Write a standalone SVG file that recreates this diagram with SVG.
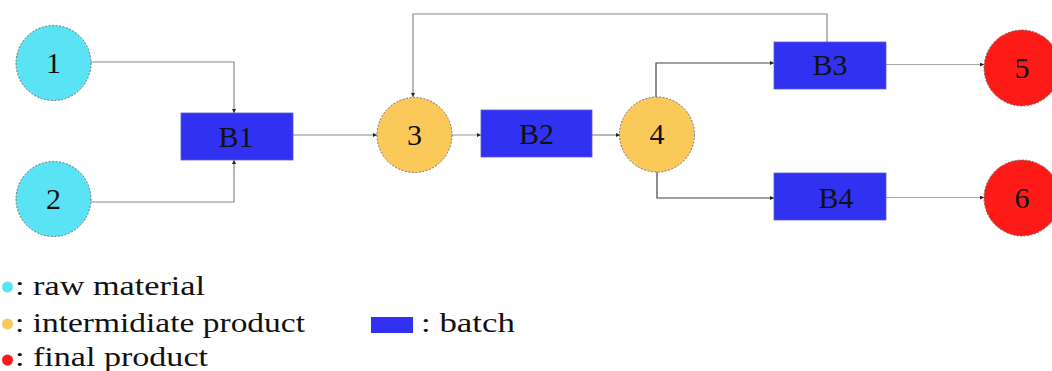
<svg xmlns="http://www.w3.org/2000/svg" width="1052" height="371" viewBox="0 0 1052 371">
  <style>
    .raw { fill: #5ae3f5; }
    .mid { fill: #fac95a; }
    .fin { fill: #fd1a17; }
    .node-c { stroke: #555; stroke-width: 0.8; stroke-dasharray: 2 1.5; }
    .batch { fill: #3131f2; stroke: #5a5ad8; stroke-width: 0.8; }
    .lbl { font-family: "Liberation Serif", "Times New Roman", serif; font-size: 30px; fill: #111; text-anchor: middle; }
    .leg { font-family: "Liberation Serif", "Times New Roman", serif; font-size: 27px; fill: #111; }
    .edge { fill: none; stroke: #8a8a8a; stroke-width: 1.2; marker-end: url(#tip); }
    .edge.light { stroke: #a8a8a8; }
    .edge.dark { stroke: #444; }
  </style>
  <defs>
    <marker id="tip" viewBox="0 0 6 6" refX="6" refY="3" markerWidth="4" markerHeight="4" markerUnits="userSpaceOnUse" orient="auto">
      <path d="M0,0 L6,3 L0,6 Z" fill="#222"/>
    </marker>
  </defs>

  <!-- connectors -->
  <g id="connectors">
    <path class="edge" d="M91,62 H234 V113"/>
    <path class="edge" d="M91,202 H234 V160"/>
    <path class="edge" d="M293,135 H377"/>
    <path class="edge light" d="M452,135 H481"/>
    <path class="edge" d="M592,135 H620"/>
    <path class="edge" d="M827,42 V14 H413 V97"/>
    <path class="edge dark" d="M656,97 V63 H774"/>
    <path class="edge dark" d="M657,172 V198 H774"/>
    <path class="edge light" d="M886,64.5 H984"/>
    <path class="edge light" d="M886,197.5 H984"/>
  </g>

  <!-- raw materials -->
  <g id="n1">
    <circle class="raw node-c" cx="53.5" cy="63" r="37.5"/>
    <text class="lbl" x="53.5" y="73">1</text>
  </g>
  <g id="n2">
    <circle class="raw node-c" cx="53.5" cy="199" r="37.5"/>
    <text class="lbl" x="53.5" y="209">2</text>
  </g>

  <!-- batches -->
  <g id="b1">
    <rect class="batch" x="181" y="113" width="112" height="47"/>
    <text class="lbl" x="236" y="147">B1</text>
  </g>
  <g id="b2">
    <rect class="batch" x="481" y="110" width="111" height="47"/>
    <text class="lbl" x="536.5" y="144">B2</text>
  </g>
  <g id="b3">
    <rect class="batch" x="774" y="42" width="112" height="47"/>
    <text class="lbl" x="830" y="75">B3</text>
  </g>
  <g id="b4">
    <rect class="batch" x="774" y="173" width="112" height="47"/>
    <text class="lbl" x="836" y="208">B4</text>
  </g>

  <!-- intermediate products -->
  <g id="n3">
    <circle class="mid node-c" cx="414.5" cy="135" r="37.5"/>
    <text class="lbl" x="414.5" y="145">3</text>
  </g>
  <g id="n4">
    <circle class="mid node-c" cx="657" cy="134.5" r="37.5"/>
    <text class="lbl" x="657" y="144">4</text>
  </g>

  <!-- final products -->
  <g id="n5">
    <circle class="fin node-c" cx="1022" cy="68" r="38"/>
    <text class="lbl" x="1022" y="78">5</text>
  </g>
  <g id="n6">
    <circle class="fin node-c" cx="1022" cy="198" r="38"/>
    <text class="lbl" x="1022" y="208">6</text>
  </g>

  <!-- legend -->
  <g id="legend">
    <circle class="raw" cx="7.5" cy="287" r="5.5"/>
    <text class="leg" x="15" y="295" textLength="190" lengthAdjust="spacingAndGlyphs">: raw material</text>
    <circle class="mid" cx="7.5" cy="324" r="5.5"/>
    <text class="leg" x="15" y="332" textLength="290" lengthAdjust="spacingAndGlyphs">: intermidiate product</text>
    <circle class="fin" cx="7.5" cy="360" r="5.5"/>
    <text class="leg" x="15" y="366" textLength="193" lengthAdjust="spacingAndGlyphs">: final product</text>
    <rect fill="#3131f2" x="371" y="317" width="42" height="16"/>
    <text class="leg" x="421" y="332" textLength="94" lengthAdjust="spacingAndGlyphs">: batch</text>
  </g>
</svg>
